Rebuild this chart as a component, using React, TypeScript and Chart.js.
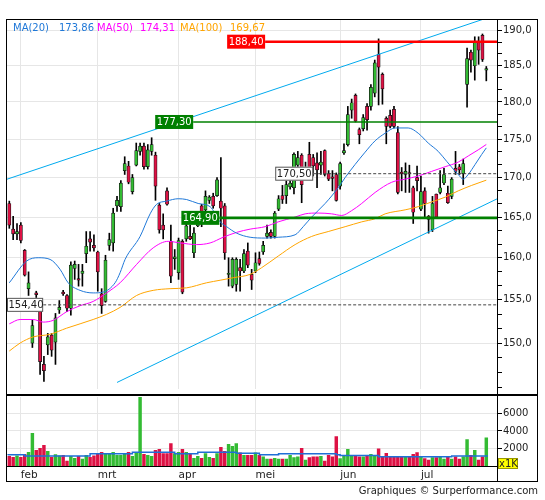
import { useEffect, useRef } from 'react';
import { Chart, registerables } from 'chart.js';

Chart.register(...registerables);

const FONT = '"DejaVu Sans", Verdana, sans-serif';

// ---- data ----
const monthIndex = [3, 23, 44, 64, 86, 107];
const monthLabels = ['feb', 'mrt', 'apr', 'mei', 'jun', 'jul'];

const opens = [
  166.7, 163.5, 162.9, 164.0, 160.9, 156.3, 150.0, 155.8, 153.9, 147.6,
  149.8, 150.9, 150.1, 153.8, 155.9, 155.5, 154.0, 158.7, 157.5, 158.1,
  160.5, 162.3, 161.5, 160.7, 155.7, 154.8, 161.5, 161.8, 166.4, 166.3,
  170.9, 171.5, 168.2, 171.6, 173.4, 174.1, 171.4, 173.4, 172.9, 166.5,
  164.0, 168.3, 162.0, 159.9, 158.2, 162.0, 162.3, 162.6, 160.6, 163.9,
  166.4, 165.9, 167.1, 167.6, 167.7, 167.0, 166.4, 158.0, 156.6, 156.8,
  158.8, 158.4, 160.8, 158.0, 158.4, 159.9, 160.7, 162.6, 163.1, 162.6,
  166.0, 167.7, 167.7, 168.8, 168.7, 171.6, 172.9, 170.6, 173.0, 172.6,
  171.9, 171.6, 173.5, 170.5, 170.1, 170.4, 168.9, 173.2, 174.3, 178.9,
  180.9, 176.3, 176.4, 179.4, 179.4, 181.2, 186.6, 183.8, 177.8, 178.2,
  179.0, 175.9, 170.7, 170.4, 170.6, 168.7, 170.0, 166.0, 168.3, 165.1,
  163.4, 167.9, 168.1, 169.3, 168.0, 167.6, 171.2, 171.4, 170.5, 182.4,
  186.9, 185.0, 188.3, 189.3, 184.4,
];
const highs = [
  167.0, 165.1, 164.2, 164.3, 161.0, 158.3, 152.6, 156.0, 154.0, 148.5,
  151.1, 151.1, 153.4, 154.9, 156.1, 155.6, 159.5, 159.6, 159.2, 159.2,
  163.2, 163.2, 162.8, 160.8, 156.3, 160.3, 163.0, 166.1, 167.6, 169.6,
  172.7, 172.1, 170.4, 174.5, 174.5, 174.5, 174.3, 175.2, 173.3, 166.7,
  165.4, 168.7, 164.0, 161.0, 162.4, 162.2, 164.4, 164.0, 163.7, 165.7,
  166.6, 168.3, 167.7, 168.0, 170.0, 172.6, 166.7, 160.0, 160.0, 160.0,
  159.8, 161.0, 161.8, 158.6, 160.6, 160.7, 162.0, 164.0, 163.4, 165.7,
  167.7, 169.0, 169.6, 170.2, 173.2, 173.4, 173.1, 172.0, 174.6, 173.0,
  173.2, 173.4, 173.6, 170.9, 170.9, 170.6, 172.0, 174.4, 179.4, 180.4,
  181.1, 176.5, 178.3, 179.8, 182.4, 185.8, 188.8, 184.0, 178.0, 178.9,
  179.4, 176.7, 171.3, 171.9, 171.6, 168.9, 171.5, 170.2, 168.7, 165.2,
  167.6, 167.9, 170.9, 171.2, 168.9, 170.0, 173.4, 171.7, 172.4, 187.5,
  187.2, 189.1, 189.1, 189.5, 184.9,
];
const lows = [
  163.6, 162.2, 162.2, 161.8, 157.8, 155.5, 149.5, 153.6, 146.5, 145.7,
  148.7, 148.5, 147.6, 153.4, 155.5, 153.6, 153.2, 157.4, 156.6, 156.6,
  159.4, 160.8, 160.8, 156.0, 153.4, 154.7, 160.9, 160.8, 165.7, 165.7,
  170.4, 169.2, 167.9, 171.5, 172.9, 171.1, 171.1, 172.9, 167.1, 163.0,
  162.3, 166.5, 157.0, 158.6, 157.4, 155.7, 162.0, 162.2, 160.0, 163.8,
  163.8, 165.7, 166.7, 166.1, 167.6, 163.8, 159.8, 156.6, 156.4, 156.0,
  156.0, 158.2, 158.8, 156.2, 158.2, 159.1, 160.4, 162.4, 162.4, 162.4,
  165.8, 166.7, 166.7, 168.5, 167.9, 171.0, 166.8, 170.0, 170.0, 170.2,
  168.7, 170.4, 170.2, 169.6, 168.3, 167.0, 168.5, 173.0, 174.1, 177.8,
  177.3, 174.4, 176.1, 176.2, 178.9, 180.7, 179.6, 179.7, 174.4, 176.5,
  176.5, 167.9, 168.3, 168.1, 168.1, 164.2, 168.3, 165.8, 165.0, 163.0,
  163.2, 164.8, 167.9, 169.1, 166.7, 167.3, 170.4, 170.4, 169.1, 179.3,
  184.1, 183.0, 185.2, 185.6, 182.9,
];
const closes = [
  164.0, 162.9, 163.2, 162.1, 157.9, 157.0, 152.0, 155.6, 147.9, 146.9,
  150.7, 149.2, 152.9, 154.1, 155.7, 154.0, 159.1, 159.2, 157.3, 158.4,
  161.4, 161.9, 161.2, 158.3, 154.3, 159.7, 162.2, 165.5, 167.1, 169.3,
  171.8, 169.4, 170.0, 173.5, 174.1, 171.4, 173.6, 174.3, 168.9, 163.4,
  163.4, 166.6, 157.8, 160.1, 162.1, 155.9, 163.9, 162.3, 163.0, 165.0,
  165.7, 167.6, 167.5, 166.4, 169.7, 166.1, 160.6, 158.1, 159.8, 159.8,
  158.4, 160.5, 159.1, 157.3, 159.4, 159.3, 161.5, 163.0, 162.6, 165.5,
  167.3, 167.2, 169.1, 169.3, 173.0, 172.6, 169.1, 171.2, 170.4, 171.5,
  171.0, 172.0, 170.4, 169.8, 169.9, 167.1, 171.8, 173.5, 178.3, 179.9,
  177.4, 175.6, 177.9, 177.6, 182.0, 185.4, 184.8, 181.8, 176.7, 176.7,
  176.7, 168.1, 170.5, 170.8, 170.5, 165.6, 169.6, 168.2, 166.7, 164.7,
  166.7, 165.0, 168.7, 170.4, 166.8, 169.8, 170.8, 171.0, 171.8, 186.0,
  185.8, 188.3, 187.2, 185.9, 184.6,
];
const volumes = [
  1170, 1060, 1210, 1060, 1390, 1610, 3730, 1830, 2050, 2380,
  1720, 1060, 1350, 1210, 1280, 620, 1170, 950, 1170, 840,
  1280, 1060, 1210, 1500, 1610, 1390, 1500, 1610, 1280, 1280,
  1390, 1610, 1170, 1610, 7900, 1390, 1280, 1170, 1830, 1940,
  1460, 1460, 2600, 1460, 1610, 1940, 1610, 1390, 950, 1170,
  950, 1460, 1060, 950, 1460, 2160, 1720, 2490, 2270, 2600,
  1540, 1280, 1280, 1280, 1540, 1280, 1100, 840, 840, 950,
  840, 840, 840, 1280, 1020, 1100, 2050, 730, 1020, 1100,
  1100, 1170, 620, 1280, 1100, 3370, 920, 1280, 1940, 1280,
  1170, 1100, 1100, 1170, 1390, 1280, 2010, 1170, 1500, 1100,
  1170, 1170, 1100, 1100, 1100, 1390, 1570, 1170, 920, 730,
  1020, 1020, 1100, 840, 1100, 840, 1100, 840, 1100, 3040,
  1280, 1830, 730, 1100, 3220,
];
const volumeAverage = [
  [-0.3, 1280], [4, 1350], [21, 1210], [32, 1460], [43, 1610], [49, 1460],
  [59, 1610], [65, 1500], [70, 1350], [85, 1460], [86, 1350], [96, 1240],
  [115, 1100], [119, 1200], [124.4, 1200],
];

const ma20 = [
  [0, 157.0], [4.5, 159.6], [7.5, 160.0], [10.6, 159.8], [13.2, 158.6], [15.3, 157.0],
  [18.4, 156.1], [21.8, 155.8], [24.4, 155.9], [27.5, 157.0], [28.8, 158.2], [30.1, 159.8],
  [34, 162.6], [36.6, 165.4], [38.3, 166.6], [40.9, 167.0], [43.9, 167.3], [46.1, 167.2],
  [49.1, 166.7], [52.2, 166.3], [54.8, 164.4], [56.5, 163.8], [59.1, 163.0], [62.6, 162.5],
  [66.5, 162.4], [69.9, 162.5], [74.3, 162.8], [76.4, 163.8], [78.6, 165.0], [82.1, 166.7],
  [85.5, 168.7], [87.3, 170.0], [89.9, 171.7], [92.5, 173.3], [95.1, 174.8], [97.7, 175.8],
  [100.3, 176.5], [103.7, 176.5], [106.3, 175.8], [108.9, 174.5], [111.5, 173.4], [113.7, 172.1],
  [115.4, 171.1], [116.7, 170.4], [118, 169.8], [119.3, 170.4], [121.1, 171.7], [122.8, 173.0],
  [124, 173.86],
];
const ma50 = [
  [0, 152.2], [2.8, 152.7], [6.2, 152.7], [8.8, 152.4], [11.4, 152.6], [14.9, 153.6],
  [18.4, 154.3], [21.8, 154.8], [25.3, 155.8], [28.8, 157.0], [33.1, 159.2], [37.4, 161.2],
  [41.3, 162.0], [44.4, 161.8], [48.7, 161.6], [52.2, 161.8], [55.6, 162.5], [59.1, 163.1],
  [62.6, 163.5], [66.5, 163.8], [69.9, 164.4], [74.3, 165.0], [76.9, 165.4], [80.3, 165.5],
  [83.8, 165.4], [86.4, 165.2], [89, 165.8], [91.6, 166.7], [95.1, 168.1], [99.4, 169.4],
  [102.9, 169.8], [106.3, 170.2], [109.8, 170.8], [113.3, 171.4], [116.7, 172.0], [119.3, 172.8],
  [121.9, 173.6], [124, 174.31],
];
const ma100 = [
  [0, 149.1], [2.8, 150.0], [6.2, 150.7], [10.6, 151.0], [14.9, 151.7], [18.4, 152.2],
  [21.8, 152.7], [25.3, 153.3], [28.8, 154.1], [33.1, 155.5], [37.4, 156.1], [41.8, 156.3],
  [46.1, 156.4], [51.3, 157.0], [54.8, 157.3], [58.2, 157.6], [62.6, 158.0], [65.6, 158.8],
  [69.9, 160.2], [74.3, 161.6], [78.6, 162.6], [82.9, 163.2], [87.3, 163.8], [91.6, 164.4],
  [95.1, 164.8], [97.7, 165.4], [102.9, 165.9], [106.3, 166.3], [109.8, 166.9], [113.3, 167.5],
  [116.7, 168.3], [120.2, 169.0], [124, 169.67],
];
const maLegend = [
  { name: 'MA(20)', value: '173,86', color: '#1f78d8', left: 13, valueLeft: 59 },
  { name: 'MA(50)', value: '174,31', color: '#ff00ff', left: 97, valueLeft: 140 },
  { name: 'MA(100)', value: '169,67', color: '#ffa500', left: 180, valueLeft: 230 },
];

const upperChannel = [[-0.6, 169.79], [126.78, 192.3]];
const lowerChannel = [[28, 145.6], [126.78, 167.28]];

const levelValues = [188.4, 177.3, 164.9, 170.5, 154.4];
const levelStarts = [66.5, 47.8, 54.6, 79.0, 8.8];

// ---- presentation ----
const X_MIN = -0.6;
const X_MAX = 126.78;
const Y_MIN = 144.88;
const Y_MAX = 191.66;
const VOL_MAX = 7800;
const GREEN = '#33bb33';
const RED = '#dd1144';
const GRID = '#e6e6e6';

const levelStyles = [
  { line: '#ff0000', width: 2.4, dash: [] as number[], bg: '#ff0000', fg: '#ffffff', border: '' },
  { line: '#008000', width: 1.3, dash: [] as number[], bg: '#008000', fg: '#ffffff', border: '' },
  { line: '#008000', width: 2.8, dash: [] as number[], bg: '#008000', fg: '#ffffff', border: '' },
  { line: '#444444', width: 1, dash: [3, 2], bg: '#ffffff', fg: '#222222', border: '#555555' },
  { line: '#444444', width: 1, dash: [3, 2], bg: '#ffffff', fg: '#222222', border: '#555555' },
];

const priceTicks: number[] = [];
for (let k = 0; k <= 27; k++) priceTicks.push(145 + (k * 5) / 3);
const isMajor = (v: number) => v > 147 && Math.abs(v - Math.round(v / 5) * 5) < 0.01;

const fmt = (v: number, d: number) => v.toFixed(d).replace('.', ',');

const levelLabelPlugin = {
  id: 'levelLabels',
  afterDatasetsDraw(chart: any) {
    const { ctx } = chart;
    const xs = chart.scales.x;
    const ys = chart.scales.y;
    ctx.save();
    ctx.font = `10px ${FONT}`;
    levelValues.forEach((v, i) => {
      const st = levelStyles[i];
      const text = fmt(v, 2);
      const w = ctx.measureText(text).width + 3;
      const h = 14;
      const xr = xs.getPixelForValue(levelStarts[i]);
      const yc = ys.getPixelForValue(v);
      const xl = Math.max(xr - w, chart.chartArea.left);
      ctx.fillStyle = st.bg;
      ctx.fillRect(xl, yc - h / 2, xr - xl, h);
      if (st.border) {
        ctx.strokeStyle = st.border;
        ctx.lineWidth = 1;
        ctx.strokeRect(xl + 0.5, yc - h / 2 + 0.5, xr - xl - 1, h - 1);
      }
      ctx.fillStyle = st.fg;
      ctx.textBaseline = 'middle';
      ctx.textAlign = 'left';
      ctx.fillText(text, xl + 1.5, yc + 0.5);
    });
    ctx.restore();
  },
};

const pts = (arr: number[][]) => arr.map(([x, y]) => ({ x, y }));

export default function App() {
  const priceRef = useRef<HTMLCanvasElement>(null);
  const volRef = useRef<HTMLCanvasElement>(null);

  useEffect(() => {
    Chart.defaults.font.family = FONT;
    const candleColors = closes.map((c, i) => (c >= opens[i] ? GREEN : RED));

    const lineDs = (data: any[], color: string, width: number, order: number, extra: any = {}) => ({
      type: 'line' as const,
      data,
      borderColor: color,
      borderWidth: width,
      pointRadius: 0,
      fill: false,
      order,
      ...extra,
    });

    const priceChart = new Chart(priceRef.current as HTMLCanvasElement, {
      type: 'bar',
      data: {
        datasets: [
          ...levelValues.map((v, i) =>
            lineDs(
              [{ x: levelStarts[i], y: v }, { x: X_MAX, y: v }],
              levelStyles[i].line,
              levelStyles[i].width,
              1,
              { borderDash: levelStyles[i].dash }
            )
          ),
          lineDs(pts(ma20), '#1f78d8', 1, 3, { cubicInterpolationMode: 'monotone' }),
          lineDs(pts(ma50), '#ff00ff', 1, 3, { cubicInterpolationMode: 'monotone' }),
          lineDs(pts(ma100), '#ffa500', 1, 3, { cubicInterpolationMode: 'monotone' }),
          lineDs(pts(upperChannel), '#00aaee', 1, 4),
          lineDs(pts(lowerChannel), '#00aaee', 1, 4),
          {
            type: 'bar' as const,
            data: opens.map((o, i) => ({ x: i, y: [o, closes[i]] })) as any,
            backgroundColor: candleColors,
            borderColor: '#111111',
            borderWidth: 0.7,
            borderSkipped: false,
            barThickness: 3.2,
            minBarLength: 1,
            grouped: false,
            order: 8,
          },
          {
            type: 'bar' as const,
            data: lows.map((l, i) => ({ x: i, y: [l, highs[i]] })) as any,
            backgroundColor: '#000000',
            barThickness: 1,
            grouped: false,
            order: 9,
          },
        ] as any,
      },
      options: {
        animation: false,
        responsive: false,
        events: [],
        layout: { padding: { left: 7, right: 7, top: 19, bottom: 1 } },
        plugins: { legend: { display: false }, tooltip: { enabled: false } },
        scales: {
          x: {
            type: 'linear',
            min: X_MIN,
            max: X_MAX,
            offset: false,
            grid: { color: GRID, drawTicks: false, offset: false },
            border: { display: false },
            ticks: { display: false },
            afterBuildTicks: (s: any) => {
              s.ticks = monthIndex.map((v) => ({ value: v }));
            },
            afterFit: (s: any) => {
              s.height = 0;
            },
          },
          y: {
            type: 'logarithmic',
            position: 'right',
            min: Y_MIN,
            max: Y_MAX,
            grid: {
              color: (c: any) => (c.tick && isMajor(c.tick.value) ? GRID : 'rgba(0,0,0,0)'),
              tickColor: '#000000',
              tickLength: 5,
            },
            border: { display: false },
            ticks: {
              autoSkip: false,
              padding: 1,
              color: '#222222',
              font: { family: FONT, size: 10 },
              callback: (v: any) => (isMajor(Number(v)) ? fmt(Number(v), 1) : ''),
            },
            afterBuildTicks: (s: any) => {
              s.ticks = priceTicks.map((v) => ({ value: v }));
            },
            afterFit: (s: any) => {
              s.width = 41;
            },
          },
        } as any,
      },
      plugins: [levelLabelPlugin],
    });

    const volChart = new Chart(volRef.current as HTMLCanvasElement, {
      type: 'bar',
      data: {
        datasets: [
          {
            type: 'line' as const,
            data: pts(volumeAverage),
            stepped: 'after',
            borderColor: '#1f6fd6',
            borderWidth: 1.5,
            pointRadius: 0,
            order: 1,
          },
          {
            type: 'bar' as const,
            data: volumes.map((v, i) => ({ x: i, y: v })),
            backgroundColor: candleColors,
            barThickness: 2.8,
            grouped: false,
            order: 2,
          },
        ] as any,
      },
      options: {
        animation: false,
        responsive: false,
        events: [],
        layout: { padding: { left: 7, right: 7, top: 5.3, bottom: 18 } },
        plugins: { legend: { display: false }, tooltip: { enabled: false } },
        scales: {
          x: {
            type: 'linear',
            min: X_MIN,
            max: X_MAX,
            offset: false,
            grid: { color: GRID, drawTicks: false, offset: false },
            border: { display: false },
            ticks: {
              autoSkip: false,
              maxRotation: 0,
              align: 'start',
              padding: 2,
              color: '#222222',
              font: { family: FONT, size: 10.5 },
              callback: (v: any) => {
                const k = monthIndex.indexOf(Number(v));
                return k >= 0 ? monthLabels[k] : '';
              },
            },
            afterBuildTicks: (s: any) => {
              s.ticks = monthIndex.map((v) => ({ value: v }));
            },
            afterFit: (s: any) => {
              s.height = 15.3;
            },
          },
          y: {
            position: 'right',
            min: 0,
            max: VOL_MAX,
            grid: { color: GRID, tickColor: '#000000', tickLength: 5 },
            border: { display: false },
            ticks: {
              autoSkip: false,
              padding: 1,
              color: '#222222',
              font: { family: FONT, size: 10 },
              callback: (v: any) => String(v),
            },
            afterBuildTicks: (s: any) => {
              s.ticks = [2000, 4000, 6000].map((v) => ({ value: v }));
            },
            afterFit: (s: any) => {
              s.width = 41;
            },
          },
        } as any,
      },
    });

    return () => {
      priceChart.destroy();
      volChart.destroy();
    };
  }, []);

  const line = (l: number, t: number, w: number, h: number) => (
    <div style={{ position: 'absolute', left: l, top: t, width: w, height: h, background: '#000' }} />
  );

  return (
    <div style={{ position: 'absolute', left: 0, top: 0, width: 545, height: 500, background: '#fff', fontFamily: FONT, overflow: 'hidden' }}>
      <canvas ref={priceRef} width={545} height={396} style={{ position: 'absolute', left: 0, top: 0, width: 545, height: 396 }} />
      <canvas ref={volRef} width={545} height={110} style={{ position: 'absolute', left: 0, top: 390, width: 545, height: 110 }} />
      <div style={{ position: 'absolute', left: 6, top: 19, width: 532, height: 463, border: '1px solid #000', boxSizing: 'border-box' }} />
      {line(6, 394, 532, 1.5)}
      {line(497, 19, 1, 463)}
      {line(6, 466, 491, 1)}
      {maLegend.map((m) => (
        <div key={m.name}>
          <span style={{ position: 'absolute', left: m.left, top: 22, fontSize: 10, lineHeight: '12px', color: m.color, whiteSpace: 'nowrap' }}>{m.name}</span>
          <span style={{ position: 'absolute', left: m.valueLeft, top: 22, fontSize: 10, lineHeight: '12px', color: m.color, whiteSpace: 'nowrap' }}>{m.value}</span>
        </div>
      ))}
      <div style={{ position: 'absolute', left: 498, top: 458, width: 20, height: 11, background: '#ffff00', border: '1px solid #999900', boxSizing: 'border-box', fontSize: 10, lineHeight: '10px', textAlign: 'center', color: '#222' }}>x1K</div>
      <div style={{ position: 'absolute', right: 7, top: 485, fontSize: 10, lineHeight: '12px', color: '#222', whiteSpace: 'nowrap' }}>Graphiques © Surperformance.com</div>
    </div>
  );
}
